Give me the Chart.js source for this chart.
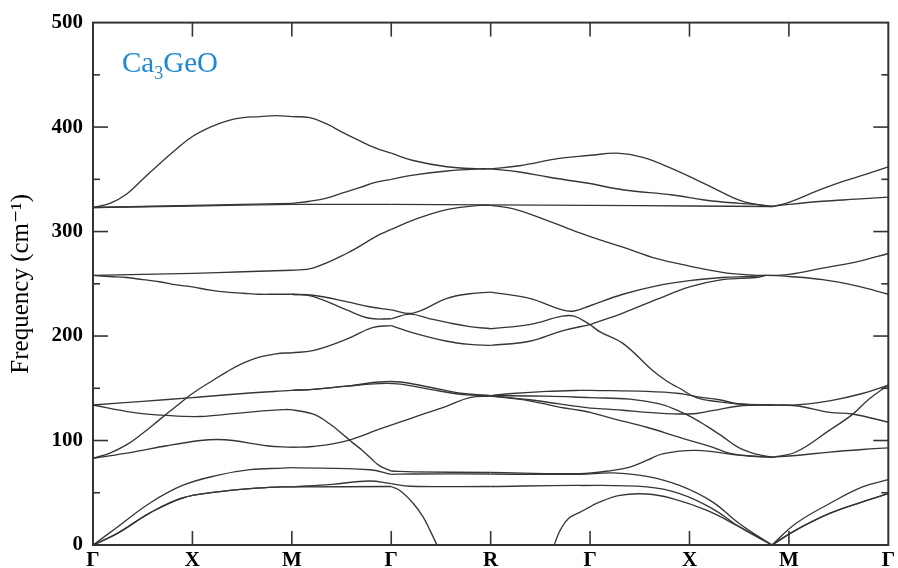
<!DOCTYPE html>
<html><head><meta charset="utf-8">
<script src="https://cdn.jsdelivr.net/npm/chart.js@4"></script>
<style>html,body{margin:0;padding:0;background:#fff;overflow:hidden}canvas{display:block}</style>
</head><body>
<canvas id="c" width="898" height="568"></canvas>
<script>
// High-symmetry path labels (x = 0,100,...,800)
const xTickLabels = ['Γ','X','M','Γ','R','Γ','X','M','Γ'];
const yTickValues = [0,100,200,300,400,500];
// positions along the path where branches may have a corner (M, Γ, R, Γ, M)
const cornerX = [200,300,400,500,683];

// Phonon branches: x = position along path, y = frequency (cm-1)
const b1x = [0,17,34,50,67,84,100,118,135,151,168,184,200,218,235,251,268,284,300,322,356,389,400,429,469,500,527,553,583,617,650,667,683,700,734,761,781,800];
const b1y = [323,327,336,350,365,379,391,400,406,409,410,411,410,409,403,395,387,380,375,368,362,360,360,363,370,373,375,371,360,345,330,326,324,328,341,350,356,362];
const b2x = [0,100,200,218,235,251,268,284,300,322,356,389,400,429,459,500,533,583,617,650,667,683,700,734,768,800];
const b2y = [323,325,327,329,332,337,342,347,350,354,358,360,360,357,352,346,340,335,330,327,326,324,326,329,331,333];
const b3x = [0,100,200,300,400,500,600,683];
const b3y = [323,324.5,326,326,325.5,325,324.5,324];
const b4x = [0,50,100,151,200,221,255,288,300,322,356,389,400,422,456,489,510,533,567,600,633,660,677,700,734,768,800];
const b4y = [258,259,260,261.5,263,265,279,297,302,311,321,325,325,322,311,299,292,285,274,267,261,258.5,258,259,265,271,279];
const b5x = [0,17,34,50,67,84,100,118,135,151,168,184,200,221,255,278,300,322,356,379,400,439,472,484,500,533,567,600,633,660,677,700,734,768,800];
const b5y = [258,257,256,254,252,249,247,244,242,241,240,240,240,239,233,228,225,222,236,240.5,242,236,225,224,229,240,248,253,256,257,258,257,254,248,240];
const b6x = [200,221,255,278,300,319,339,356,379,400,439,472,484,500,510,533,563,577,590,607,630,650,683];
const b6y = [240,238,225,217,216.5,221,216.5,213,209,207,211,219,219,211,204,193,167,157,150,141,137,135,134];
const b7x = [0,17,34,50,67,84,100,118,135,151,168,184,200,221,255,281,300,322,356,379,400,439,472,500,533,567,600,633,667,677];
const b7y = [83,88,96,107,120,133,145,156,166,174,180,183,184,186,197,208,210,203,195,192,191,195,205,211,222,235,247,254,256,258];
const b8x = [0,50,100,151,200,221,255,288,309,339,372,400,422,456,489,500,557,590,607,630,650,683,707,741,774,800];
const b8y = [134,137.5,141,145,148,149,152,156,156,151,145,143,145,147,148,148,147,145,142,139,135,134,134,138,145,153];
const b9x = [200,221,255,288,309,339,372,400,456,500,540,570,590,603,617,633,650,667,683,707,741,764,781,800];
const b9y = [148,149,152,154.5,154,149,144,143,142.5,141,139.6,135,128,122,114,104,93,87,84,89,110,125,140,153];
const b10x = [0,40,74,108,141,175,191,198,221,238,255,261,271,280,288,300,322,400,489,523,540,557,573,607,650,683,707,741,774,800];
const b10y = [134,127,124,123,125.7,128.6,129.5,129.5,125.4,116,103,98,90.5,82.5,76,70.8,70,69.5,68.3,71.4,74.6,81,87.3,90.5,86,84,85.7,88.9,91.4,93];
const b11x = [400,439,469,489,500,533,557,600,623,650,683,707,741,764,800];
const b11y = [143,139,135,132.4,131,129,127,125.4,128.6,133,134,133.3,127,125.4,117.5];
const b12x = [0,40,74,108,125,141,175,200,221,255,288,322,356,379,400,439,469,489,500,523,557,590,623,640,660,683];
const b12y = [83,88.9,95,100,101,100,95,93.6,94.3,99.7,110.8,122,133,141,142.5,138,132,129,127,121,112.7,103,93.7,88,85.2,84];
const b13x = [0,25,57,90,125,158,191,200,278,300,322,400,489,523,557,590,623,650,683,707,741,774,800];
const b13y = [0,17.5,40,57,66.7,72.1,73.6,74,72,67.6,68,68,67.6,69,65.7,57,41.3,20.6,0,20.6,39.7,55.6,62.5];
const b14x = [0,25,57,90,125,158,191,200,240,278,300,319,400,489,557,590,623,650,683,707,741,774,800];
const b14y = [0,11.4,30.5,45,50.8,54,55.6,55.6,58,61.3,58.7,56.2,56,57,55.6,49.2,34.9,17.5,0,14.3,30.2,41.3,49.2];
const b15x = [0,25,57,90,125,158,191,200,300,309,322,332,339,346];
const b15y = [0,11.4,30.5,45,50.8,54,55.6,55.6,56,52,40,27,14,0];
const b16x = [464,467,471,479,489,500,506,530,557,583,617,650,683,707,741,774,800];
const b16y = [0,8,16,26,31,36.5,39.7,47.5,48.8,44.4,33.3,17.5,0,14.3,30.2,41.3,49.2];

const branches = [
  [b1x,b1y],[b2x,b2y],[b3x,b3y],[b4x,b4y],[b5x,b5y],[b6x,b6y],[b7x,b7y],[b8x,b8y],
  [b9x,b9y],[b10x,b10y],[b11x,b11y],[b12x,b12y],[b13x,b13y],[b14x,b14y],[b15x,b15y],[b16x,b16y]
];

// split each branch into pieces at the path corners so kinks stay sharp
function pieces(xs, ys) {
  const out = [];
  let cur = [];
  xs.forEach((x, i) => {
    cur.push({x: x, y: ys[i]});
    if (cornerX.includes(x) && i > 0 && i < xs.length - 1) {
      out.push(cur);
      cur = [{x: x, y: ys[i]}];
    }
  });
  out.push(cur);
  return out;
}

const datasets = [];
branches.forEach(([xs, ys]) => {
  pieces(xs, ys).forEach(p => datasets.push({
    data: p,
    borderColor: '#363636',
    borderWidth: 1.35,
    pointRadius: 0,
    fill: false,
    tension: 0.4
  }));
});

const serif = "'Liberation Serif','Times New Roman','DejaVu Serif',serif";

const framePlugin = {
  id: 'frame',
  afterDraw(chart) {
    const {ctx, chartArea: a, scales: {x, y}} = chart;
    ctx.save();
    ctx.strokeStyle = '#333';
    ctx.lineWidth = 1.6;
    const seg = (x1, y1, x2, y2) => { ctx.beginPath(); ctx.moveTo(x1, y1); ctx.lineTo(x2, y2); ctx.stroke(); };
    for (let v = 50; v < 500; v += 50) {
      const py = y.getPixelForValue(v);
      const len = (v % 100 === 0) ? 15 : 7;
      seg(a.left, py, a.left + len, py);
      seg(a.right, py, a.right - len, py);
    }
    for (let k = 1; k < xTickLabels.length - 1; k++) {
      const px = x.getPixelForValue(k * 100);
      seg(px, a.top, px, a.top + 14);
      seg(px, a.bottom, px, a.bottom - 14);
    }
    ctx.lineWidth = 2;
    ctx.strokeRect(a.left, a.top, a.right - a.left, a.bottom - a.top);
    // compound name
    ctx.fillStyle = '#1e88d0';
    ctx.textBaseline = 'alphabetic';
    ctx.textAlign = 'left';
    let tx = 122, ty = 72;
    ctx.font = '29px ' + serif;
    ctx.fillText('Ca', tx, ty); tx += ctx.measureText('Ca').width;
    ctx.font = '18px ' + serif;
    ctx.fillText('3', tx, ty + 7); tx += ctx.measureText('3').width;
    ctx.font = '29px ' + serif;
    ctx.fillText('GeO', tx, ty);
    ctx.restore();
  }
};

new Chart(document.getElementById('c'), {
  type: 'line',
  data: {datasets},
  options: {
    responsive: false,
    animation: false,
    layout: {padding: {top: 20, right: 9, left: 0, bottom: 0}},
    plugins: {legend: {display: false}, tooltip: {enabled: false}},
    scales: {
      x: {
        type: 'linear', min: 0, max: 800,
        grid: {display: false, drawTicks: false},
        border: {display: false},
        afterFit: (s) => { s.height = 23; },
        ticks: {
          stepSize: 100, autoSkip: false, maxRotation: 0, padding: 3,
          color: '#000',
          font: {family: serif, size: 21, weight: 'bold'},
          callback: (v) => xTickLabels[Math.round(v / 100)]
        }
      },
      y: {
        type: 'linear', min: 0, max: 500,
        grid: {display: false, drawTicks: false},
        border: {display: false},
        afterFit: (s) => { s.width = 93; },
        afterBuildTicks: (s) => { s.ticks = yTickValues.map(v => ({value: v})); },
        ticks: {
          padding: 10, color: '#000',
          font: {family: serif, size: 21, weight: 'bold'}
        },
        title: {
          display: true, text: 'Frequency (cm⁻¹)', color: '#000',
          font: {family: serif, size: 25, weight: 'normal'},
          padding: {top: 6, bottom: 0}
        }
      }
    }
  },
  plugins: [framePlugin]
});
</script>
</body></html>
